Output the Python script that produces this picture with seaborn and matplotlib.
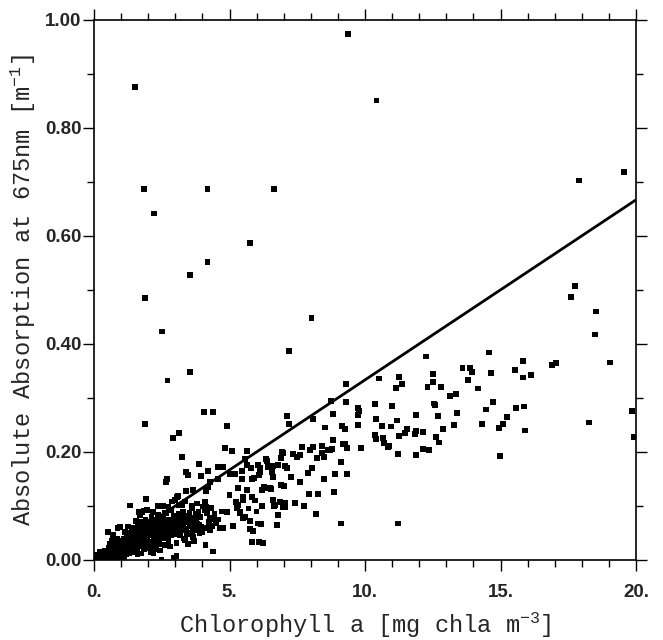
import numpy as np
import pandas as pd
import matplotlib
matplotlib.use('Agg')
import matplotlib.pyplot as plt
from matplotlib.ticker import MultipleLocator, FixedLocator, FixedFormatter
import seaborn as sns

# ! Values

# dense cluster, chl < 4.7
chl_cluster = [
    0.02, 0.05, 0.08, 0.10, 0.12, 0.15, 0.18, 0.20, 0.22, 0.25, 0.28, 0.30, 0.32, 0.35,
    0.38, 0.40, 0.42, 0.45, 0.48, 0.50, 0.10, 0.20, 0.30, 0.40, 0.15, 0.35, 0.25, 0.45,
    0.52, 0.55, 0.58, 0.60, 0.62, 0.65, 0.68, 0.70, 0.72, 0.75, 0.78, 0.80, 0.82, 0.84,
    0.86, 0.88, 0.90, 0.92, 0.95, 0.96, 0.98, 0.60, 0.70, 0.55, 0.85, 0.75,
    1.02, 1.05, 1.08, 1.10, 1.12, 1.14, 1.15, 1.20, 1.22, 1.25, 1.28, 1.30, 1.33, 1.35,
    1.38, 1.40, 1.42, 1.45, 1.48, 1.50, 1.10, 1.30, 1.45, 1.25,
    1.52, 1.55, 1.58, 1.60, 1.62, 1.64, 1.66, 1.68, 1.70, 1.72, 1.75, 1.77, 1.78, 1.80,
    1.82, 1.84, 1.85, 1.88, 1.90, 1.92, 1.94, 1.96, 1.98, 1.60, 1.75, 1.90, 1.55, 1.70,
    2.02, 2.05, 2.07, 2.10, 2.12, 2.15, 2.18, 2.20, 2.22, 2.25, 2.28, 2.31, 2.33, 2.36,
    2.38, 2.40, 2.42, 2.44, 2.46, 2.48, 2.50, 2.49, 2.19, 2.30, 2.10, 2.35, 2.25,
    2.52, 2.55, 2.58, 2.60, 2.62, 2.64, 2.66, 2.68, 2.69, 2.68, 2.70, 2.72, 2.75, 2.78,
    2.80, 2.82, 2.84, 2.86, 2.87, 2.90, 2.92, 2.93, 2.95, 2.93, 2.98, 2.99, 2.60, 2.75, 2.55,
    3.02, 3.05, 3.05, 3.06, 3.08, 3.10, 3.11, 3.13, 3.14, 3.15, 3.17, 3.20, 3.22, 3.25,
    3.25, 3.28, 3.29, 3.30, 3.33, 3.35, 3.35, 3.39, 3.39, 3.40, 3.42, 3.45, 3.46, 3.47, 3.48,
    3.52, 3.55, 3.58, 3.60, 3.62, 3.65, 3.66, 3.68, 3.71, 3.74, 3.76, 3.79, 3.82, 3.85,
    3.87, 3.88, 3.90, 3.92, 3.95, 3.97, 3.99, 3.60, 3.70, 3.80,
    4.03, 4.06, 4.09, 4.10, 4.12, 4.13, 4.13, 4.15, 4.15, 4.17, 4.21, 4.21, 4.25, 4.28,
    4.28, 4.28, 4.32, 4.35, 4.39, 4.39, 4.40, 4.40, 4.45, 4.50, 4.58, 4.58, 4.58, 4.64, 4.70,
]
abs_cluster = [
    0.001, 0.002, 0.000, 0.004, 0.002, 0.006, 0.003, 0.008, 0.001, 0.005, 0.010, 0.003, 0.007, 0.012,
    0.005, 0.009, 0.002, 0.014, 0.007, 0.011, 0.010, 0.015, 0.016, 0.018, 0.000, 0.000, 0.013, 0.004,
    0.052, 0.003, 0.016, 0.008, 0.021, 0.012, 0.026, 0.046, 0.005, 0.018, 0.030, 0.010, 0.022, 0.015,
    0.059, 0.035, 0.006, 0.025, 0.018, 0.061, 0.030, 0.030, 0.036, 0.022, 0.040, 0.002,
    0.012, 0.028, 0.020, 0.040, 0.008, 0.052, 0.033, 0.018, 0.045, 0.025, 0.035, 0.012, 0.101, 0.042,
    0.030, 0.056, 0.020, 0.031, 0.048, 0.038, 0.000, 0.050, 0.060, 0.062,
    0.015, 0.045, 0.030, 0.065, 0.059, 0.089, 0.052, 0.025, 0.083, 0.040, 0.070, 0.089, 0.055, 0.035,
    0.092, 0.020, 0.062, 0.048, 0.075, 0.113, 0.030, 0.093, 0.058, 0.010, 0.012, 0.040, 0.072, 0.050,
    0.045, 0.070, 0.034, 0.055, 0.080, 0.025, 0.089, 0.062, 0.040, 0.075, 0.050, 0.043, 0.068, 0.083,
    0.058, 0.030, 0.072, 0.018, 0.065, 0.048, 0.074, 0.001, 0.012, 0.020, 0.015, 0.100, 0.057,
    0.055, 0.080, 0.040, 0.065, 0.087, 0.050, 0.144, 0.086, 0.150, 0.049, 0.070, 0.058, 0.035, 0.075,
    0.025, 0.062, 0.093, 0.045, 0.108, 0.068, 0.226, 0.059, 0.082, 0.005, 0.052, 0.111, 0.028, 0.098, 0.100,
    0.072, 0.031, 0.007, 0.117, 0.060, 0.119, 0.101, 0.085, 0.235, 0.045, 0.068, 0.078, 0.055, 0.102,
    0.191, 0.065, 0.089, 0.040, 0.075, 0.108, 0.037, 0.163, 0.128, 0.058, 0.082, 0.070, 0.030, 0.157, 0.050,
    0.088, 0.062, 0.070, 0.079, 0.095, 0.130, 0.043, 0.055, 0.065, 0.085, 0.070, 0.075, 0.058, 0.090,
    0.178, 0.065, 0.049, 0.080, 0.156, 0.062, 0.052, 0.100, 0.035, 0.105,
    0.099, 0.274, 0.093, 0.107, 0.028, 0.128, 0.098, 0.086, 0.059, 0.089, 0.165, 0.135, 0.070, 0.144,
    0.079, 0.056, 0.096, 0.063, 0.274, 0.078, 0.075, 0.016, 0.085, 0.068, 0.172, 0.150, 0.075, 0.059, 0.090,
]

# more points inside the solid part of the cluster
chl_fill = [
    0.05, 0.12, 0.22, 0.30, 0.38, 0.45, 0.55, 0.62, 0.68, 0.78, 0.88, 0.95, 1.00, 1.05,
    1.15, 1.20, 1.28, 1.35, 1.42, 1.50, 1.55, 1.62, 1.68, 1.72, 1.80, 1.85, 1.90, 1.95,
    2.00, 2.05, 2.12, 2.15, 2.20, 2.28, 2.32, 2.38, 2.42, 2.50, 2.55, 2.60, 2.65, 2.72,
    2.78, 2.85, 2.90, 2.96, 3.00, 3.08, 3.12, 3.18, 3.24, 3.30, 3.38, 3.44, 3.50, 3.56,
    3.64, 3.72, 3.80, 3.90, 1.00, 1.20, 1.40, 1.60, 1.80, 2.00, 2.20, 2.40, 2.60, 2.80,
    3.00, 3.20, 3.40, 0.80, 0.65,
]
abs_fill = [
    0.006, 0.008, 0.004, 0.012, 0.014, 0.008, 0.010, 0.014, 0.018, 0.024, 0.012, 0.028, 0.022, 0.036,
    0.024, 0.030, 0.046, 0.022, 0.040, 0.028, 0.055, 0.035, 0.046, 0.060, 0.045, 0.070, 0.055, 0.040,
    0.062, 0.052, 0.045, 0.065, 0.050, 0.062, 0.055, 0.078, 0.045, 0.060, 0.068, 0.052, 0.075, 0.062,
    0.055, 0.072, 0.050, 0.064, 0.082, 0.050, 0.066, 0.058, 0.085, 0.062, 0.070, 0.048, 0.074, 0.066,
    0.052, 0.078, 0.068, 0.060, 0.005, 0.010, 0.014, 0.020, 0.025, 0.022, 0.030, 0.035, 0.040, 0.045,
    0.048, 0.050, 0.055, 0.040, 0.035,
]

# middle band, 4.7 < chl < 9.3
chl_middle = [
    4.76, 4.76, 4.83, 4.91, 4.91, 5.02, 5.09, 5.13, 5.20, 5.24, 5.31, 5.31, 5.39, 5.46,
    5.46, 5.50, 5.57, 5.65, 5.65, 5.65, 5.76, 5.76, 5.79, 5.83, 5.83, 5.87, 5.90, 6.05,
    6.05, 6.09, 6.09, 6.13, 6.20, 6.24, 6.27, 6.35, 6.38, 6.38, 6.42, 6.12, 6.16, 5.00,
    5.50, 5.95, 6.00, 5.70, 5.27, 5.39, 5.57, 5.50, 5.83, 6.20, 6.49, 6.64, 6.86, 6.97,
    6.79, 6.75,
    6.60, 6.79, 7.05, 7.12, 6.57, 6.60, 7.27, 7.60, 7.90, 8.04, 8.49, 6.53, 6.90, 7.01,
    7.93, 8.27, 6.60, 6.68, 7.05, 7.05, 7.42, 7.75, 8.19, 6.97, 6.90, 7.34, 7.49, 7.60,
    7.68, 7.97, 8.08, 8.23, 8.41, 8.49, 8.63, 8.78, 8.41, 6.94, 7.12, 7.20, 8.08, 8.52,
    8.75, 8.82, 9.26, 8.82, 9.19, 9.34, 9.11, 8.89, 9.34, 8.86, 9.11, 8.70, 9.15, 9.26,
]
abs_middle = [
    0.172, 0.059, 0.207, 0.248, 0.089, 0.159, 0.202, 0.063, 0.159, 0.107, 0.133, 0.102, 0.089, 0.165,
    0.150, 0.078, 0.187, 0.202, 0.176, 0.130, 0.072, 0.057, 0.170, 0.150, 0.033, 0.054, 0.152, 0.176,
    0.068, 0.157, 0.033, 0.163, 0.100, 0.031, 0.135, 0.187, 0.183, 0.133, 0.172, 0.170, 0.067, 0.120,
    0.110, 0.110, 0.090, 0.095, 0.096, 0.087, 0.080, 0.117, 0.117, 0.130, 0.133, 0.100, 0.107, 0.098,
    0.083, 0.065,
    0.174, 0.176, 0.174, 0.170, 0.163, 0.154, 0.154, 0.144, 0.161, 0.170, 0.150, 0.131, 0.139, 0.137,
    0.122, 0.122, 0.111, 0.102, 0.106, 0.098, 0.106, 0.100, 0.085, 0.198, 0.189, 0.196, 0.191, 0.194,
    0.209, 0.204, 0.209, 0.189, 0.211, 0.191, 0.204, 0.206, 0.198, 0.200, 0.267, 0.252, 0.261, 0.245,
    0.294, 0.270, 0.216, 0.222, 0.215, 0.207, 0.181, 0.159, 0.159, 0.126, 0.068, 0.204, 0.248, 0.243,
]

# right part, chl > 9.3
chl_right = [
    9.30, 9.30, 9.74, 9.78, 9.74, 9.74, 9.85, 10.37, 10.41, 10.37, 10.41, 10.52, 10.63, 10.66,
    10.70, 10.85, 10.89, 10.96, 10.99, 11.14, 11.18, 11.22, 11.22, 11.25, 11.25, 11.37, 11.48,
    11.55, 11.84, 11.88, 11.88, 11.88, 12.14, 12.14, 12.25, 12.30, 12.36, 12.50, 12.50, 12.55,
    12.58, 12.62, 12.69, 12.73, 12.80, 12.88, 13.14, 13.28, 13.36, 13.40, 13.60, 13.80, 13.87,
    13.95, 14.17, 14.32, 14.46, 14.58, 14.65, 14.72, 14.94, 14.98, 15.10, 15.24, 15.53, 15.57,
    15.83, 15.83, 15.87, 15.90, 16.13, 16.90, 17.05, 18.27, 18.49, 19.04, 19.85, 19.93,
]
abs_right = [
    0.326, 0.293, 0.281, 0.276, 0.269, 0.250, 0.207, 0.289, 0.261, 0.231, 0.224, 0.336, 0.248, 0.226,
    0.217, 0.209, 0.211, 0.247, 0.285, 0.319, 0.258, 0.196, 0.068, 0.339, 0.230, 0.326, 0.235,
    0.243, 0.233, 0.269, 0.239, 0.194, 0.237, 0.206, 0.377, 0.320, 0.204, 0.344, 0.330, 0.290,
    0.287, 0.228, 0.267, 0.218, 0.320, 0.243, 0.304, 0.250, 0.307, 0.272, 0.356, 0.333, 0.356,
    0.348, 0.318, 0.252, 0.279, 0.384, 0.346, 0.293, 0.244, 0.193, 0.252, 0.265, 0.352, 0.281,
    0.369, 0.338, 0.284, 0.240, 0.343, 0.361, 0.365, 0.255, 0.418, 0.366, 0.276, 0.228,
]

# high outliers
chl_outlier = [
    1.51, 1.85, 2.21, 4.18, 6.65, 5.76, 4.18, 3.54, 1.89, 8.03, 9.37, 10.42, 17.90, 19.56,
    17.75, 17.60, 18.52, 2.50, 2.72, 3.54, 7.19, 1.88, 2.92, 1.92, 1.33,
]
abs_outlier = [
    0.876, 0.687, 0.642, 0.687, 0.687, 0.587, 0.552, 0.528, 0.485, 0.448, 0.974, 0.851, 0.703, 0.719,
    0.507, 0.487, 0.460, 0.423, 0.332, 0.348, 0.387, 0.252, 0.226, 0.113, 0.101,
]

# fitted line end points
line_chl = [0.0, 20.0]
line_abs = [0.0, 0.667]

x_ticks = [0, 5, 10, 15, 20]
x_labels = ['0.', '5.', '10.', '15.', '20.']
y_ticks = [0.0, 0.2, 0.4, 0.6, 0.8, 1.0]
y_labels = ['0.00', '0.20', '0.40', '0.60', '0.80', '1.00']

df = pd.DataFrame({
    'chl': chl_cluster + chl_fill + chl_middle + chl_right + chl_outlier,
    'absorption': abs_cluster + abs_fill + abs_middle + abs_right + abs_outlier,
})
line_df = pd.DataFrame({'chl': line_chl, 'absorption': line_abs})

sns.set_style('ticks')
plt.rcParams['mathtext.fontset'] = 'custom'
plt.rcParams['mathtext.rm'] = 'Liberation Mono'
plt.rcParams['mathtext.it'] = 'Liberation Mono'

fig = plt.figure(figsize=(6.63, 6.40), dpi=100)
ax = fig.add_axes([94 / 663, 1 - 560 / 640, 542 / 663, 540 / 640])

sns.scatterplot(data=df, x='chl', y='absorption', marker='s', s=16, color='black',
                edgecolor='none', linewidth=0, ax=ax, zorder=3)
sns.lineplot(data=line_df, x='chl', y='absorption', color='black', linewidth=2.0, ax=ax)

ax.set_xlim(0, 20)
ax.set_ylim(0, 1.0)

ax.xaxis.set_major_locator(FixedLocator(x_ticks))
ax.xaxis.set_major_formatter(FixedFormatter(x_labels))
ax.xaxis.set_minor_locator(MultipleLocator(1))
ax.yaxis.set_major_locator(FixedLocator(y_ticks))
ax.yaxis.set_major_formatter(FixedFormatter(y_labels))
ax.yaxis.set_minor_locator(MultipleLocator(0.1))

for sp in ax.spines.values():
    sp.set_visible(True)
    sp.set_linewidth(1.2)
    sp.set_color('black')

ax.tick_params(axis='both', which='both', direction='out', top=True, right=True,
               color='black', width=1.0)
ax.tick_params(axis='both', which='major', length=8)
ax.tick_params(axis='both', which='minor', length=5)
ax.tick_params(axis='x', which='major', pad=9)
ax.tick_params(axis='y', which='major', pad=1)

for lab in ax.get_xticklabels() + ax.get_yticklabels():
    lab.set_fontfamily('Liberation Sans')
    lab.set_fontweight('bold')
    lab.set_fontsize(13.5)

ax.set_xlabel(r'Chlorophyll a [mg chla m$^{-3}$]',
              fontfamily='Liberation Mono', fontsize=17, labelpad=7)
ax.set_ylabel(r'Absolute Absorption at 675nm [m$^{-1}$]',
              fontfamily='Liberation Mono', fontsize=17, labelpad=5)

fig.savefig('out.png', dpi=100)
